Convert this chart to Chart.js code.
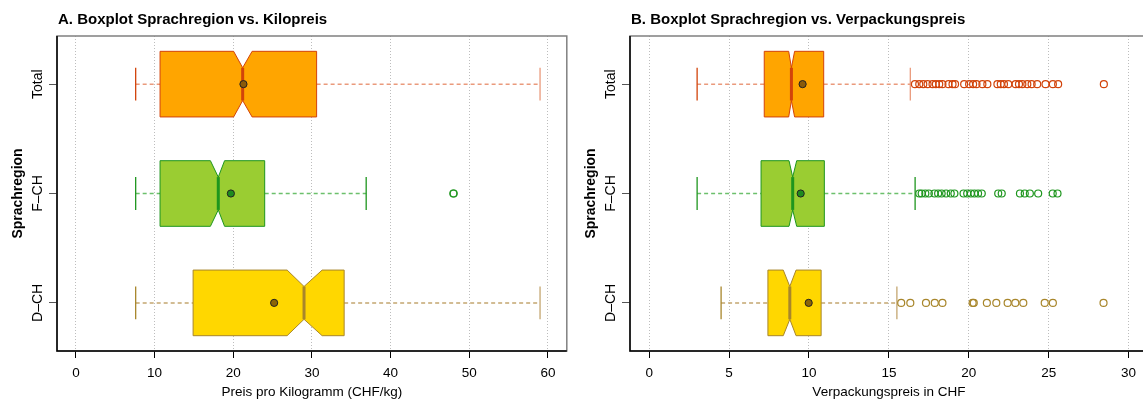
<!DOCTYPE html>
<html>
<head>
<meta charset="utf-8">
<script src="https://cdn.jsdelivr.net/npm/chart.js@4.4.0/dist/chart.umd.min.js"></script>
<style>
html, body { margin: 0; padding: 0; background: #fff; overflow: hidden; width: 1143px; height: 403px; }
#wrapA { position: absolute; left: 0; top: 0; }
#wrapB { position: absolute; left: 572px; top: 0; }
</style>
</head>
<body>
<div id="wrapA"><canvas id="chartA" width="572" height="403"></canvas></div>
<div id="wrapB"><canvas id="chartB" width="581" height="403"></canvas></div>
<script>
// categories, bottom to top (y = 1, 2, 3)
const regions = ['D–CH', 'F–CH', 'Total'];

// A. Kilopreis (CHF/kg)
const kiloMin      = [7.6, 7.6, 7.6];
const kiloQ1       = [14.9, 10.7, 10.7];
const kiloNotchLo  = [26.85, 17.1, 20.05];
const kiloMedian   = [29.0, 18.1, 21.2];
const kiloNotchHi  = [31.3, 18.9, 22.4];
const kiloQ3       = [34.1, 24.0, 30.6];
const kiloMax      = [59.0, 36.9, 59.0];
const kiloMean     = [25.2, 19.7, 21.3];
const kiloOutliers = [[], [48.0, 48.0], []];
const kiloTicks    = [0, 10, 20, 30, 40, 50, 60];

// B. Verpackungspreis (CHF)
const packMin      = [4.5, 3.0, 3.0];
const packQ1       = [7.43, 7.0, 7.2];
const packNotchLo  = [8.39, 8.75, 8.73];
const packMedian   = [8.8, 8.98, 8.9];
const packNotchHi  = [9.19, 9.23, 9.1];
const packQ3       = [10.76, 10.96, 10.92];
const packMax      = [15.5, 16.64, 16.34];
const packMean     = [9.98, 9.48, 9.6];
const packOutliersD = [15.77, 16.34, 17.32, 17.87, 18.35, 20.24, 20.31, 21.13, 21.72, 22.43, 22.91, 23.41, 24.75, 25.26, 28.43];
const packOutliersF = [16.9, 17.05, 17.28, 17.5, 17.85, 18.08, 18.3, 18.58, 18.87, 19.1, 19.67, 19.9, 20.13, 20.35, 20.58, 20.81,
                       21.84, 22.06, 23.2, 23.5, 23.82, 24.34, 25.25, 25.55];
const packOutliersT = [16.63, 16.9, 17.15, 17.42, 17.73, 17.94, 18.15, 18.35, 18.73, 18.98, 19.14, 19.71, 20.02, 20.27, 20.48,
                       20.85, 21.16, 21.79, 22.0, 22.2, 22.47, 22.93, 23.14, 23.35, 23.66, 23.93, 24.28, 24.8, 25.26, 25.59, 28.45];
const packTicks    = [0, 5, 10, 15, 20, 25, 30];

const FONT = '"Liberation Sans", Arial, Helvetica, sans-serif';

// colours per region (D-CH, F-CH, Total)
const regionColors = [
  { fill: '#FFD700', border: '#A8862B', whisker: '#C4A670', capLo: '#A8862B', capHi: '#C4A670', mean: '#8B6508', out: '#A8862B' },
  { fill: '#9ACD32', border: '#1E961E', whisker: '#6CC06C', capLo: '#1E961E', capHi: '#1E961E', mean: '#1E8B1E', out: '#1E961E' },
  { fill: '#FFA500', border: '#D2430A', whisker: '#EA9A7C', capLo: '#D2430A', capHi: '#EA9A7C', mean: '#8B5A0A', out: '#D2430A' }
];

function makeStats(mn, q1, nlo, med, nhi, q3, mx) {
  return regions.map((r, i) => ({ min: mn[i], q1: q1[i], nlo: nlo[i], med: med[i], nhi: nhi[i], q3: q3[i], max: mx[i] }));
}

const boxPlugin = {
  id: 'boxplots',
  beforeDatasetsDraw(chart, args, opts) {
    const ctx = chart.ctx, xs = chart.scales.x, ys = chart.scales.y;
    const px = v => xs.getPixelForValue(v);
    opts.stats.forEach((s, i) => {
      const c = regionColors[i];
      const y = ys.getPixelForValue(i + 1);
      const h = Math.abs(ys.getPixelForValue(i + 1 + 0.3) - y);
      const cap = h / 2;
      ctx.save();
      // whiskers
      ctx.setLineDash([4, 3]);
      ctx.lineWidth = 1.5;
      ctx.strokeStyle = c.whisker;
      ctx.beginPath();
      ctx.moveTo(px(s.min), y); ctx.lineTo(px(s.q1), y);
      ctx.moveTo(px(s.q3), y); ctx.lineTo(px(s.max), y);
      ctx.stroke();
      ctx.setLineDash([]);
      // staples
      ctx.lineWidth = 1.3;
      ctx.strokeStyle = c.capLo;
      ctx.beginPath(); ctx.moveTo(px(s.min), y - cap); ctx.lineTo(px(s.min), y + cap); ctx.stroke();
      ctx.strokeStyle = c.capHi;
      ctx.beginPath(); ctx.moveTo(px(s.max), y - cap); ctx.lineTo(px(s.max), y + cap); ctx.stroke();
      // notched box
      ctx.beginPath();
      ctx.moveTo(px(s.q1), y - h);
      ctx.lineTo(px(s.nlo), y - h);
      ctx.lineTo(px(s.med), y - h / 2);
      ctx.lineTo(px(s.nhi), y - h);
      ctx.lineTo(px(s.q3), y - h);
      ctx.lineTo(px(s.q3), y + h);
      ctx.lineTo(px(s.nhi), y + h);
      ctx.lineTo(px(s.med), y + h / 2);
      ctx.lineTo(px(s.nlo), y + h);
      ctx.lineTo(px(s.q1), y + h);
      ctx.closePath();
      ctx.fillStyle = c.fill;
      ctx.fill();
      ctx.lineWidth = 1;
      ctx.strokeStyle = c.border;
      ctx.stroke();
      // median
      ctx.lineWidth = 3;
      ctx.beginPath(); ctx.moveTo(px(s.med), y - h / 2); ctx.lineTo(px(s.med), y + h / 2); ctx.stroke();
      ctx.restore();
    });
  },
  afterDraw(chart, args, opts) {
    const ctx = chart.ctx, a = chart.chartArea, ys = chart.scales.y;
    ctx.save();
    // frame
    ctx.lineWidth = 1.5;
    ctx.strokeStyle = '#808080';
    ctx.strokeRect(a.left, a.top, a.right - a.left, a.bottom - a.top);
    ctx.strokeStyle = '#000';
    ctx.beginPath();
    ctx.moveTo(a.left, a.top); ctx.lineTo(a.left, a.bottom); ctx.lineTo(a.right, a.bottom);
    ctx.stroke();
    // title
    ctx.fillStyle = '#000';
    ctx.font = 'bold 15px ' + FONT;
    ctx.textAlign = 'left';
    ctx.textBaseline = 'alphabetic';
    ctx.fillText(opts.title, a.left + 1, 24);
    // rotated category labels and axis title
    ctx.font = '14px ' + FONT;
    ctx.textAlign = 'center';
    ctx.textBaseline = 'middle';
    regions.forEach((r, i) => {
      ctx.save();
      ctx.translate(a.left - 18.5, ys.getPixelForValue(i + 1));
      ctx.rotate(-Math.PI / 2);
      ctx.fillText(r, 0, 0);
      ctx.restore();
    });
    ctx.font = 'bold 14px ' + FONT;
    ctx.save();
    ctx.translate(a.left - 38.5, (a.top + a.bottom) / 2);
    ctx.rotate(-Math.PI / 2);
    ctx.fillText('Sprachregion', 0, 0);
    ctx.restore();
    ctx.restore();
  }
};

function makeChart(canvasId, title, xTitle, xmin, xmax, ticks, stats, means, outliers, yWidth) {
  const datasets = outliers.map((vals, i) => ({
    data: vals.map(v => ({ x: v, y: i + 1 })),
    pointRadius: 3.5,
    pointBorderWidth: 1.2,
    pointBackgroundColor: 'rgba(0,0,0,0)',
    pointBorderColor: regionColors[i].out
  }));
  datasets.push({
    data: means.map((v, i) => ({ x: v, y: i + 1 })),
    pointRadius: 3.6,
    pointBorderWidth: 1,
    pointBackgroundColor: regionColors.map(c => c.mean),
    pointBorderColor: '#222'
  });

  return new Chart(document.getElementById(canvasId), {
    type: 'scatter',
    data: { datasets: datasets },
    plugins: [boxPlugin],
    options: {
      responsive: false,
      animation: false,
      events: [],
      layout: { padding: { top: 36, right: 4, left: 0, bottom: 0 } },
      plugins: {
        legend: { display: false },
        tooltip: { enabled: false },
        boxplots: { stats: stats, title: title }
      },
      scales: {
        x: {
          type: 'linear',
          min: xmin,
          max: xmax,
          afterBuildTicks: s => { s.ticks = ticks.map(v => ({ value: v })); },
          afterFit: s => { s.height = 52; },
          grid: { color: '#bdbdbd', lineWidth: 1, drawTicks: true, tickLength: 7, tickColor: '#000', tickWidth: 1 },
          border: { display: false, dash: [1, 2] },
          ticks: { color: '#000', font: { size: 13.5, family: FONT }, padding: 7, maxRotation: 0, autoSkip: false },
          title: { display: true, text: xTitle, color: '#000', font: { size: 13.5, family: FONT }, padding: { top: 0, bottom: 3 } }
        },
        y: {
          type: 'linear',
          min: 0.56,
          max: 3.44,
          afterBuildTicks: s => { s.ticks = [1, 2, 3].map(v => ({ value: v })); },
          afterFit: s => { s.width = yWidth; },
          grid: { drawOnChartArea: false, drawTicks: true, tickLength: 8, tickColor: '#555', tickWidth: 1 },
          border: { display: false },
          ticks: { display: false }
        }
      }
    }
  });
}

makeChart('chartA', 'A. Boxplot Sprachregion vs. Kilopreis', 'Preis pro Kilogramm (CHF/kg)', -2.4, 62.4, kiloTicks,
  makeStats(kiloMin, kiloQ1, kiloNotchLo, kiloMedian, kiloNotchHi, kiloQ3, kiloMax), kiloMean, kiloOutliers, 57);

makeChart('chartB', 'B. Boxplot Sprachregion vs. Verpackungspreis', 'Verpackungspreis in CHF', -1.2, 31.2, packTicks,
  makeStats(packMin, packQ1, packNotchLo, packMedian, packNotchHi, packQ3, packMax), packMean,
  [packOutliersD, packOutliersF, packOutliersT], 58);
</script>
</body>
</html>
